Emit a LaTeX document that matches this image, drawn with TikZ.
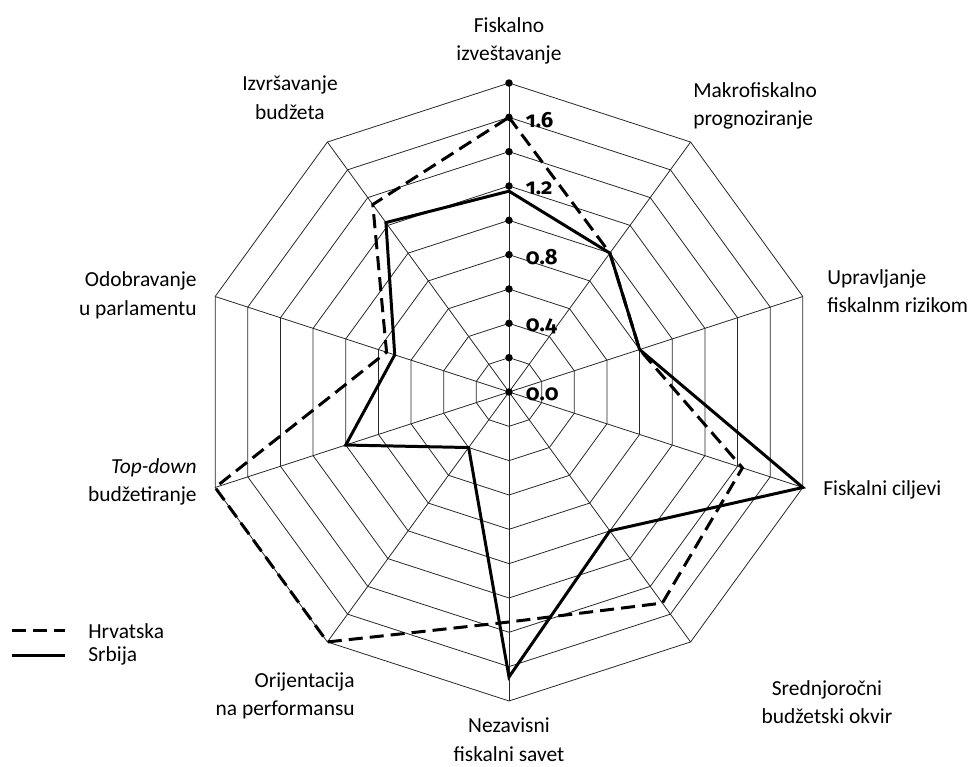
\documentclass[tikz,border=0pt]{standalone}
\usepackage{fontspec}
\setmainfont{Carlito}
\newfontfamily\ticknum[Numbers=OldStyle]{Fira Sans}
\usepackage{tikz}

\def\unitr{3.433}
\tikzset{
  gridline/.style={line width=0.45pt, black!85},
  hrline/.style={line width=1.7pt, dash pattern=on 8pt off 4pt, line join=miter},
  srline/.style={line width=1.7pt, line join=miter},
  axisdot/.style={circle, fill=black, inner sep=0pt, minimum size=0.15cm},
  catlabel/.style={font=\fontsize{12.2}{16.3}\selectfont, inner sep=0pt},
  ticklabel/.style={font=\ticknum\bfseries\fontsize{12.5}{14}\selectfont, anchor=west, inner sep=0pt},
}

\begin{document}
\begin{tikzpicture}
	\useasboundingbox (-10.18,-7.5) rectangle (9.24,7.84);
	% Grid: rings, spokes and the value axis
	\coordinate (c) at (0,0);
	\foreach \i in {0,...,9}
		\coordinate (v\i) at ({90-36*\i}:{1.8*\unitr});
	\foreach \k in {1,...,9}
		\draw[gridline] (90:{\k*0.2*\unitr}) \foreach \i in {1,...,9}{ -- ({90-36*\i}:{\k*0.2*\unitr})} -- cycle;
	\foreach \i in {0,...,9}
		\draw[gridline] (c) -- (v\i);
	\foreach \k in {0,...,9}
		\node[axisdot] (tick\k) at (0,{\k*0.2*\unitr}) {};
	\foreach \k/\t in {0/0.0, 2/0.4, 4/0.8, 6/1.2, 8/1.6}
		\node[ticklabel] at ([xshift=0.33cm, yshift=-0.05cm]tick\k) {\t};
	% Data: Hrvatska and Srbija
	\foreach \v [count=\i from 0] in {1.6,1.0,0.8,1.43,1.52,1.34,1.8,1.8,0.75,1.35}
		\coordinate (hr\i) at ({90-36*\i}:{\v*\unitr});
	\foreach \v [count=\i from 0] in {1.17,1.0,0.8,1.8,1.0,1.66,0.4,1.0,0.7,1.22}
		\coordinate (sr\i) at ({90-36*\i}:{\v*\unitr});
	\draw[hrline] (hr0) -- (hr1) -- (hr2) -- (hr3) -- (hr4) -- (hr5) -- (hr6) -- (hr7) -- (hr8) -- (hr9) -- cycle;
	\draw[srline] (sr0) -- (sr1) -- (sr2) -- (sr3) -- (sr4) -- (sr5) -- (sr6) -- (sr7) -- (sr8) -- (sr9) -- cycle;
	% Category labels
	\node[catlabel, align=center] (fiz) at (0, 7.02) {Fiskalno\\izveštavanje};
	\node[catlabel, align=center] (izb) at (-4.38, 5.88) {Izvršavanje\\budžeta};
	\node[catlabel, align=left, anchor=west] (mfp) at (3.68, 5.72) {Makrofiskalno\\prognoziranje};
	\node[catlabel, align=left, anchor=west] (ufr) at (6.36, 2.02) {Upravljanje\\fiskalnm rizikom};
	\node[catlabel, align=left, anchor=west] (fc) at (6.28, -1.96) {Fiskalni ciljevi};
	\node[catlabel, align=center] (sbo) at (6.36, -6.2) {Srednjoročni\\budžetski okvir};
	\node[catlabel, align=center] (nfs) at (0, -6.96) {Nezavisni\\fiskalni savet};
	\node[catlabel, align=right, anchor=east] (onp) at (-3.08, -6.08) {Orijentacija\\na performansu};
	\node[catlabel, align=right, anchor=east] (tdb) at (-6.24, -1.8) {\textit{Top-down}\\budžetiranje};
	\node[catlabel, align=right, anchor=east] (oup) at (-6.24, 1.94) {Odobravanje\\u parlamentu};
	% Legend
	\coordinate (hrleg) at (-9.94, -4.78);
	\coordinate (srleg) at (-9.94, -5.28);
	\draw[hrline] (hrleg) -- ++(1.06,0) coordinate (hrlegend);
	\draw[srline] (srleg) -- ++(1.06,0) coordinate (srlegend);
	\node[catlabel, anchor=west] (hrtext) at ([xshift=0.46cm]hrlegend) {Hrvatska};
	\node[catlabel, anchor=west] (srtext) at ([xshift=0.46cm]srlegend) {Srbija};
\end{tikzpicture}
\end{document}
